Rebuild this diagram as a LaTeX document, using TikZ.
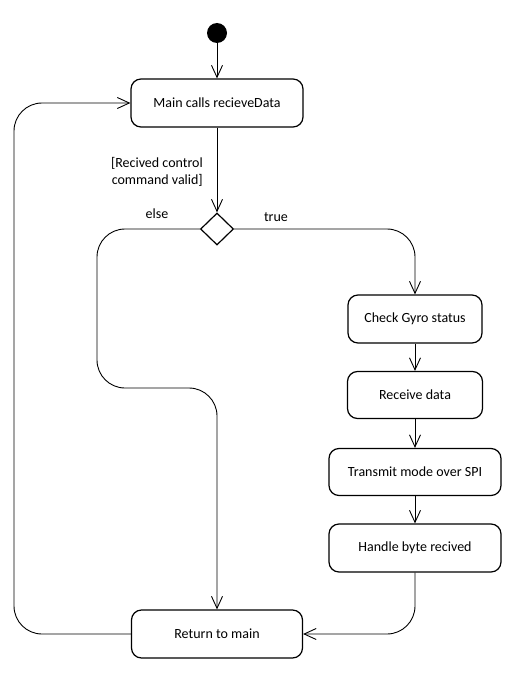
\documentclass[tikz,border=0pt]{standalone}
\usepackage{fontspec}
\setmainfont{Carlito}
\usetikzlibrary{shapes.geometric,arrows.meta}
\begin{document}
\begin{tikzpicture}[x=1pt,y=-1pt,
  act/.style={draw, rounded corners=10pt, line width=1.2pt, inner sep=0pt, font=\fontsize{14}{16}\selectfont},
  arr/.style={line width=0.9pt, -{Straight Barb[length=12pt,width=11pt,line width=0.9pt]}},
  lbl/.style={font=\fontsize{14}{17}\selectfont, inner sep=0pt}]
\useasboundingbox (0,0) rectangle (524,674);
\fill[white] (0,0) rectangle (524,674);
\node[circle, fill=black, minimum size=20pt, inner sep=0pt] (init) at (217,33) {};
\node[act, minimum width=172pt, minimum height=48pt] (main) at (217,103) {Main calls recieveData};
\node[diamond, draw, line width=1.2pt, minimum width=33pt, minimum height=32pt, inner sep=0pt] (dec) at (217,229) {};
\node[act, minimum width=134pt, minimum height=48pt] (chk) at (415,319) {Check Gyro status};
\node[act, minimum width=135pt, minimum height=47pt] (rcv) at (415,395) {Receive data};
\node[act, minimum width=172pt, minimum height=47pt] (tx) at (415,472) {Transmit mode over SPI};
\node[act, minimum width=172pt, minimum height=48pt] (hb) at (415,548) {Handle byte recived};
\node[act, minimum width=171pt, minimum height=48pt] (ret) at (217,634) {Return to main};
\node[lbl, align=right, anchor=east] (guard) at (203,172) {[Recived control\\command valid]};
\node[lbl] (else) at (157,214) {else};
\node[lbl] (true) at (276,217) {true};
\coordinate (lx) at (14,0);
\coordinate (elx) at (97,0);
\coordinate (mid) at (0,388);
\draw[arr] (init) -- (main);
\draw[arr] (main) -- (dec);
\draw[arr, rounded corners=28pt] (dec.east) -| (chk.north);
\draw[arr] (chk) -- (rcv);
\draw[arr] (rcv) -- (tx);
\draw[arr] (tx) -- (hb);
\draw[arr, rounded corners=28pt] (hb.south) |- (ret.east);
\draw[arr, rounded corners=28pt] (dec.west) -- (dec.west -| elx) -- (elx |- mid) -- (ret.north |- mid) -- (ret.north);
\draw[arr, rounded corners=28pt] (ret.west) -- (ret.west -| lx) -- (main.west -| lx) -- (main.west);
\end{tikzpicture}
\end{document}
